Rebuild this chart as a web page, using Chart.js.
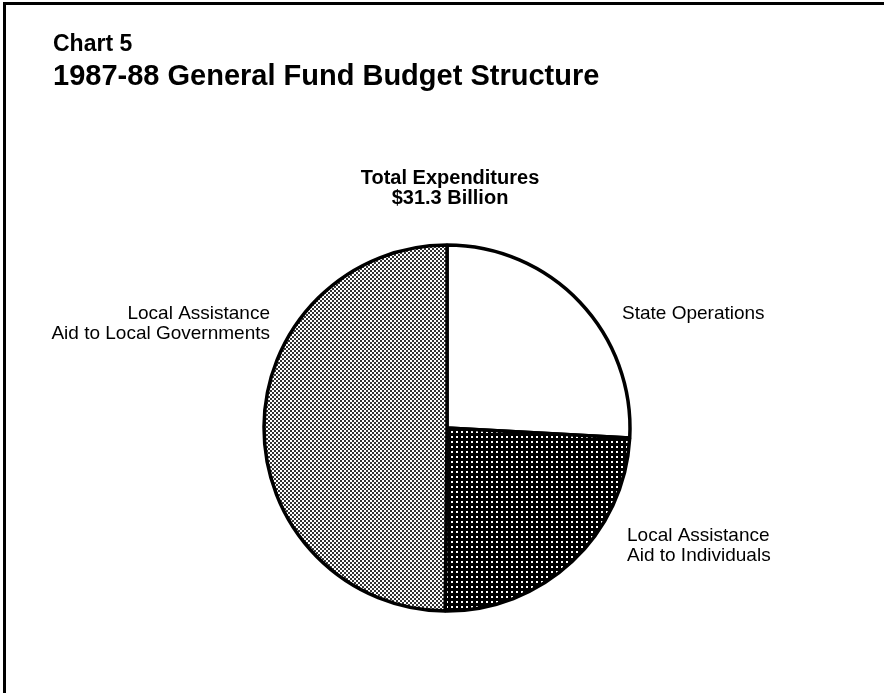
<!DOCTYPE html>
<html><head><meta charset="utf-8">
<script src="https://cdn.jsdelivr.net/npm/chart.js@4.4.0/dist/chart.umd.min.js"></script>
<style>html,body{margin:0;padding:0;background:#fff;} #wrap{position:relative;width:884px;height:693px;}</style>
</head><body><div id="wrap"><canvas id="c" width="884" height="693"></canvas></div>
<script>
// ---- data ----
const chartLabel = 'Chart 5';
const chartTitle = '1987-88 General Fund Budget Structure';
const totalLines = ['Total Expenditures', '$31.3 Billion'];
const categories = [
  ['State Operations'],
  ['Local Assistance', 'Aid to Individuals'],
  ['Local Assistance', 'Aid to Local Governments']
];
const values = [8.1, 7.6, 15.6]; // $ billions

// ---- styles ----
const FONT = '"Liberation Sans", Arial, Helvetica, sans-serif';
function makePattern(kind) {
  const c = document.createElement('canvas');
  const x = c.getContext('2d');
  if (kind === 'white') return '#ffffff';
  if (kind === 'checker') {
    c.width = 4; c.height = 4;
    x.fillStyle = '#ffffff'; x.fillRect(0, 0, 4, 4);
    x.fillStyle = '#333333'; x.fillRect(0, 0, 2, 2); x.fillRect(2, 2, 2, 2);
  } else {
    c.width = 5; c.height = 5;
    x.fillStyle = '#000000'; x.fillRect(0, 0, 5, 5);
    x.fillStyle = '#ffffff'; x.fillRect(1, 1, 2, 2);
  }
  return document.getElementById('c').getContext('2d').createPattern(c, 'repeat');
}
const fills = [makePattern('white'), makePattern('dots'), makePattern('checker')];

// label placement relative to pie centre (styling only)
const labelPlace = [
  { dx: 175, dy: -109, align: 'left' },
  { dx: 180, dy: 113, align: 'left' },
  { dx: -177, dy: -109, align: 'right' }
];

const textPlugin = {
  id: 'textPlugin',
  beforeDraw(chart) {
    const ctx = chart.ctx;
    ctx.save();
    ctx.fillStyle = '#000';
    ctx.fillRect(3, 2, 881, 3);
    ctx.fillRect(3, 2, 3, 691);
    ctx.restore();
  },
  afterDraw(chart) {
    const ctx = chart.ctx;
    const arc = chart.getDatasetMeta(0).data[0];
    const cx = arc.x, cy = arc.y;
    ctx.save();
    ctx.fillStyle = '#000';
    ctx.textBaseline = 'alphabetic';
    ctx.textAlign = 'left';
    ctx.font = 'bold 23px ' + FONT;
    ctx.fillText(chartLabel, 53, 51);
    ctx.font = 'bold 29px ' + FONT;
    ctx.fillText(chartTitle, 53, 85);
    ctx.textAlign = 'center';
    ctx.font = 'bold 20px ' + FONT;
    totalLines.forEach((t, i) => ctx.fillText(t, cx + 3, 184 + i * 20));
    ctx.font = '19px ' + FONT;
    categories.forEach((lines, k) => {
      const p = labelPlace[k];
      ctx.textAlign = p.align;
      lines.forEach((t, i) => ctx.fillText(t, cx + p.dx, cy + p.dy + i * 20));
    });
    ctx.restore();
  }
};

new Chart(document.getElementById('c'), {
  type: 'pie',
  data: {
    labels: categories.map(l => l.join(' ')),
    datasets: [{
      data: values,
      backgroundColor: fills,
      borderColor: '#000',
      borderWidth: 3.5,
      radius: 183
    }]
  },
  options: {
    responsive: false,
    animation: false,
    events: [],
    layout: { padding: { left: 10, right: 0, top: 163, bottom: 0 } },
    plugins: { legend: { display: false }, tooltip: { enabled: false }, title: { display: false } }
  },
  plugins: [textPlugin]
});
</script>
</body></html>
